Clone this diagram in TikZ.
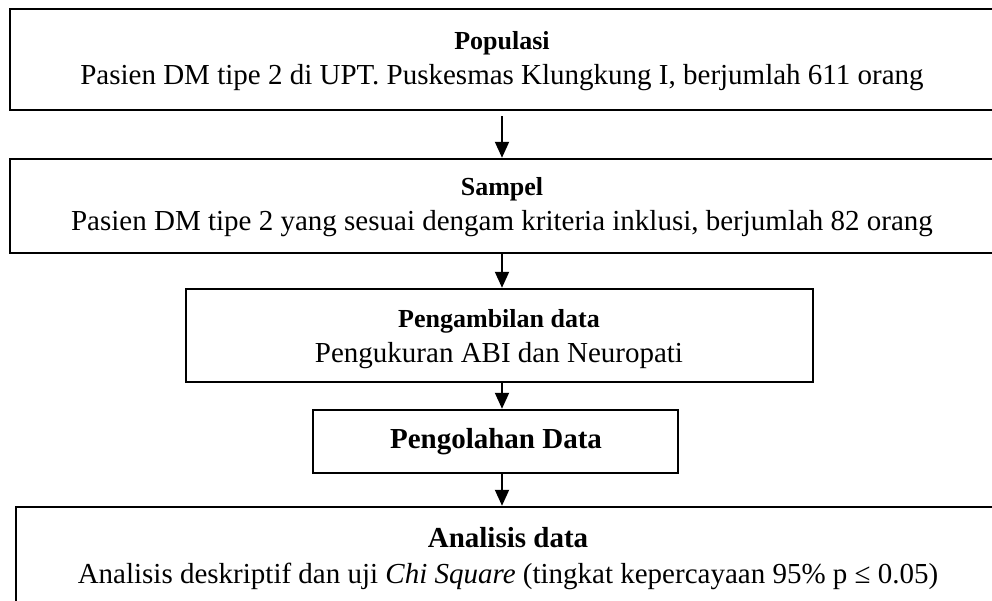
\documentclass[tikz,border=0pt]{standalone}
\usepackage{fontspec}
\setmainfont{Liberation Serif}
\usetikzlibrary{arrows.meta}

\tikzset{
  box/.style={draw, line width=2.5pt, inner sep=0pt},
  txt/.style={anchor=base, inner sep=0pt, font=\fontsize{29}{35}\selectfont},
  ttl/.style={anchor=base, inner sep=0pt, font=\fontsize{26}{31}\selectfont\bfseries},
  bigttl/.style={anchor=base, inner sep=0pt, font=\fontsize{29}{35}\selectfont\bfseries},
  arr/.style={line width=2pt, -{Triangle[width=14pt,length=16pt]}},
}

\begin{document}
\begin{tikzpicture}[x=1pt, y=-1pt]
  \useasboundingbox (0,0) rectangle (992,600);
  \clip (0,0) rectangle (992,600);

  % boxes
  \node[box, minimum width=985pt, minimum height=101pt] (pop) at (502.5,59.5) {};
  \node[box, minimum width=985pt, minimum height=94pt]  (smp) at (502.5,206) {};
  \node[box, minimum width=627pt, minimum height=93pt]  (amb) at (499.5,335.5) {};
  \node[box, minimum width=365pt, minimum height=63pt]  (olh) at (495.5,441.5) {};
  \node[box, minimum width=984pt, minimum height=113pt] (ana) at (508,563.5) {};

  % texts
  \node[ttl] (popT) at (502,49) {Populasi};
  \node[txt] (popB) at (502,84) {Pasien DM tipe 2 di UPT. Puskesmas Klungkung I, berjumlah 611 orang};
  \node[ttl] (smpT) at (502,195) {Sampel};
  \node[txt] (smpB) at (502,230) {Pasien DM tipe 2 yang sesuai dengam kriteria inklusi, berjumlah 82 orang};
  \node[ttl] (ambT) at (499,327) {Pengambilan data};
  \node[txt] (ambB) at (499,362) {Pengukuran ABI dan Neuropati};
  \node[bigttl] (olhT) at (496,448) {Pengolahan Data};
  \node[bigttl] (anaT) at (508,547) {Analisis data};
  \node[txt] (anaB) at (508,583) {Analisis deskriptif dan uji \textit{Chi Square} (tingkat kepercayaan 95\% p ≤ 0.05)};

  % connectors
  \coordinate (ax) at (502,0);
  \draw[arr] (pop.south -| ax) ++(0,5) -- (smp.north -| ax);
  \draw[arr] (smp.south -| ax) -- (amb.north -| ax);
  \draw[arr] (amb.south -| ax) -- (olh.north -| ax);
  \draw[arr] (olh.south -| ax) -- (ana.north -| ax);
\end{tikzpicture}
\end{document}
